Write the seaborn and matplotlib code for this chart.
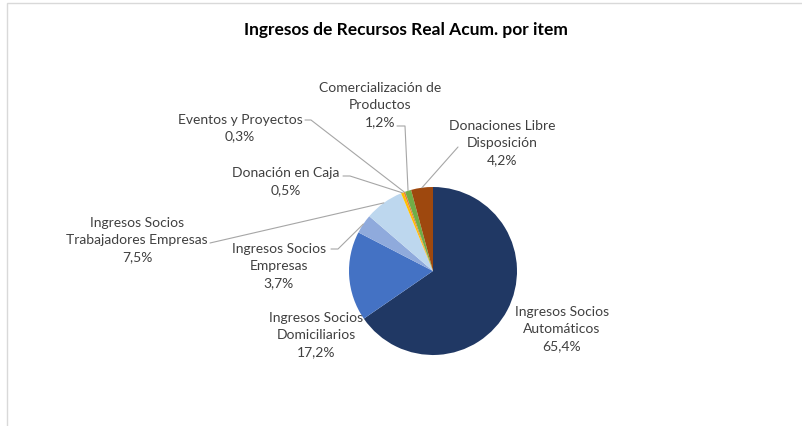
import numpy as np
import matplotlib
matplotlib.use('Agg')
import matplotlib.pyplot as plt
import seaborn as sns
from matplotlib.patches import Rectangle

# ==========================================
# Datos
# ==========================================
ITEMS = ['Ingresos Socios\nAutomáticos', 'Ingresos Socios\nDomiciliarios', 'Ingresos Socios\nEmpresas',
         'Ingresos Socios\nTrabajadores Empresas', 'Donación en Caja', 'Eventos y Proyectos',
         'Comercialización de\nProductos', 'Donaciones Libre\nDisposición']
VALORES = [65.4, 17.2, 3.7, 7.5, 0.5, 0.3, 1.2, 4.2]
COLORES = ['#203864', '#4472C4', '#8FAADC', '#BDD7EE', '#FFC000', '#ED7D31', '#70AD47', '#9E480E']
TITULO = 'Ingresos de Recursos Real Acum. por item'

# posiciones (pixeles, origen arriba-izquierda) de cada etiqueta y su codo de linea guia
W, H = 802, 427
CENTRO = (433, 272)
RADIO = 84
LABEL_POS = [(562, 329), (316, 335), (279, 266), (137, 240), (286, 182), (240, 128), (380, 105), (502, 143)]
CODOS = [None, None, [(331, 250), (338, 250)], [(210, 244)], [(343, 177), (350, 177)],
         [(305, 121), (311, 121)], [(397, 127), (405, 127)], [(458, 148)]]


def py(y):
    return H - y


sns.set_theme(style='white')
plt.rcParams['font.family'] = ['Lato', 'DejaVu Sans']

fig = plt.figure(figsize=(W / 100, H / 100), dpi=100)
ax = fig.add_axes([0, 0, 1, 1])

palette = sns.color_palette(COLORES)
wedges, _ = ax.pie(VALORES, colors=palette, startangle=90, counterclock=False,
                   center=(CENTRO[0], py(CENTRO[1])), radius=RADIO, frame=True,
                   wedgeprops=dict(linewidth=0))
ax.set_xlim(0, W)
ax.set_ylim(0, H)
ax.set_aspect('equal')
ax.axis('off')

for w, lab, val, pos, codo in zip(wedges, ITEMS, VALORES, LABEL_POS, CODOS):
    texto = f"{lab}\n{val:.1f}%".replace('.', ',')
    ax.text(pos[0], py(pos[1]), texto, ha='center', va='center', fontsize=10,
            linespacing=1.5, color='#404040')
    if codo is None:
        continue
    ang = np.deg2rad((w.theta1 + w.theta2) / 2)
    ex = CENTRO[0] + RADIO * np.cos(ang)
    ey = py(CENTRO[1]) + RADIO * np.sin(ang)
    xs = [c[0] for c in codo] + [ex]
    ys = [py(c[1]) for c in codo] + [ey]
    ax.plot(xs, ys, color='#A6A6A6', linewidth=0.8)

ax.text(406, py(30), TITULO, ha='center', va='center', fontsize=12.5, fontweight='bold', color='#000000')

fig.patches.append(Rectangle((6.5 / W, -0.1), 1.2, 1.1 - 4.5 / H, transform=fig.transFigure,
                             fill=False, edgecolor='#D9D9D9', linewidth=1))

fig.savefig('out.png', dpi=100)
